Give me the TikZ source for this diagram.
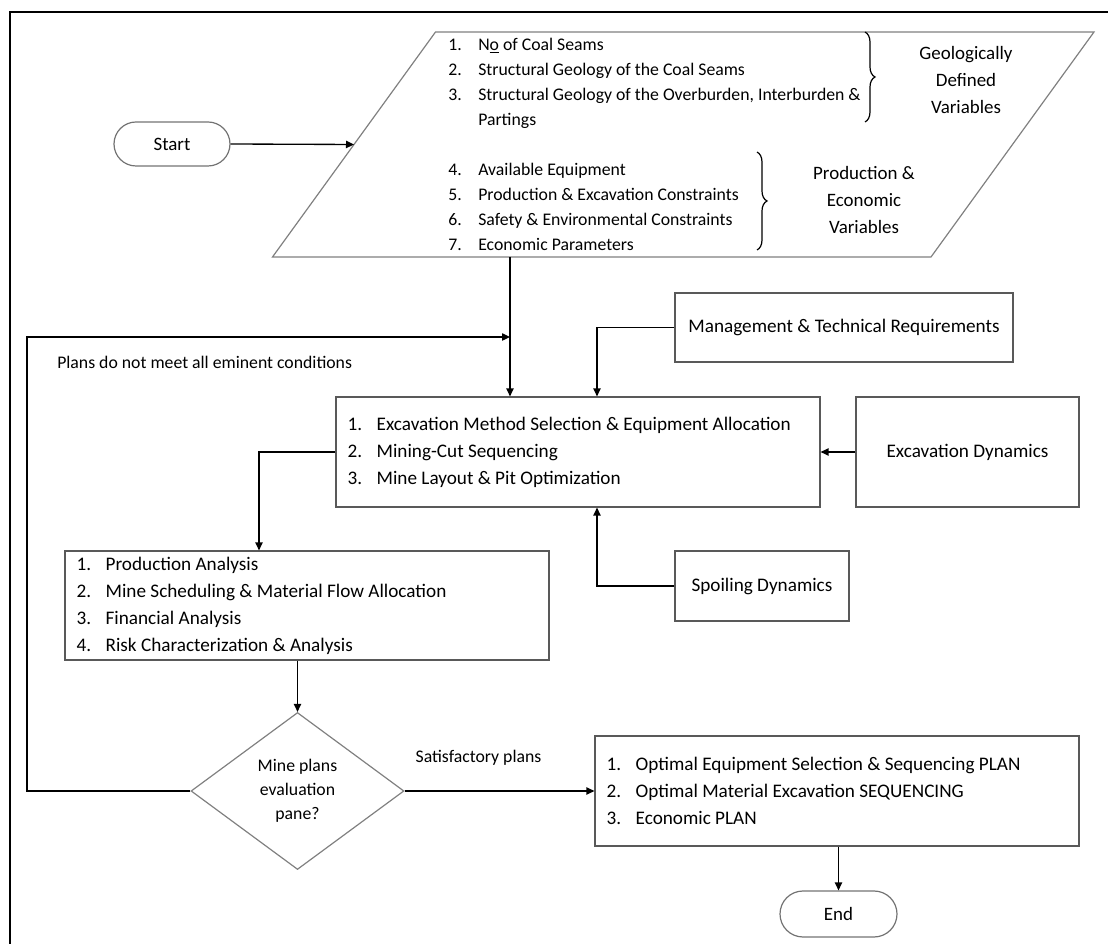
\documentclass[tikz,border=0pt]{standalone}
\usepackage{fontspec}
\setmainfont{Carlito}
\usetikzlibrary{arrows.meta,shapes.geometric,shapes.misc,decorations.pathreplacing,calc}
\newcommand{\itm}[2]{\makebox[22.5pt][l]{#1}#2}
\newcommand{\itb}[2]{\makebox[21.75pt][l]{#1}#2}
\begin{document}
\begin{tikzpicture}[x=0.75pt,y=-0.75pt,
  every node/.style={font=\fontsize{13.3pt}{18.75pt}\selectfont, inner sep=0pt},
  bigf/.style={font=\fontsize{14.4pt}{20.25pt}\selectfont},
  arr/.style={line width=1pt, -{Triangle[length=6pt,width=5.5pt]}},
  boxs/.style 2 args={draw=black!65, line width=0.9pt, rectangle, minimum width=#1*0.75pt, minimum height=#2*0.75pt, bigf},
  termx/.style 2 args={draw=black!55, line width=0.9pt, rounded rectangle, minimum width=#1*0.75pt, minimum height=#2*0.75pt, font=\fontsize{14.2pt}{18pt}\selectfont},
  listtext/.style={align=left, anchor=west},
  lbl/.style={align=center, font=\fontsize{14.2pt}{20.25pt}\selectfont},
  bracex/.style={decorate, decoration={brace, amplitude=7.5pt}, line width=0.9pt},
  frame/.style={line width=1.2pt},
  para/.style={draw=black!50, line width=0.9pt}
]
\useasboundingbox (0,0) rectangle (1108,944);
\draw[frame] (10,944) -- (10,12) -- (1108,12);

% terminals
\node[termx={116}{44}] (st) at (172,144) {Start};
\node[termx={117}{46}] (en) at (838.5,914) {End};

% input parallelogram
\coordinate (pbl) at (272.5,257);
\coordinate (ptl) at (435.5,32);
\coordinate (ptr) at (1094,32);
\coordinate (pbr) at (931,257);
\draw[para] (pbl) -- (ptl) -- (ptr) -- (pbr) -- cycle;
\coordinate (pls) at ($(pbl)!0.5!(ptl)$);
\node[listtext] (g1) at (448,83) {\itm{1.}{N\underline{o} of Coal Seams}\\
  \itm{2.}{Structural Geology of the Coal Seams}\\
  \itm{3.}{Structural Geology of the Overburden, Interburden \&}\\
  \itm{}{Partings}};
\node[listtext] (g2) at (448,207) {\itm{4.}{Available Equipment}\\
  \itm{5.}{Production \& Excavation Constraints}\\
  \itm{6.}{Safety \& Environmental Constraints}\\
  \itm{7.}{Economic Parameters}};
\coordinate (b1t) at (865,32);
\coordinate (b1b) at (865,122);
\coordinate (b2t) at (757,152);
\coordinate (b2b) at (757,250);
\draw[bracex] (b1t) -- (b1b);
\draw[bracex] (b2t) -- (b2b);
\node[lbl] (geo) at (966,80) {Geologically\\Defined\\Variables};
\node[lbl] (pev) at (864,200) {Production \&\\Economic\\Variables};

% boxes
\node[boxs={484}{110}] (c) at (578,452) {};
\node[listtext, bigf] (ct) at ([xshift=9pt]c.west) {\itb{1.}{Excavation Method Selection \& Equipment Allocation}\\
  \itb{2.}{Mining-Cut Sequencing}\\
  \itb{3.}{Mine Layout \& Pit Optimization}};
\node[boxs={338}{69}] (mg) at (844,327.5) {Management \& Technical Requirements};
\node[boxs={223}{110}] (ex) at (967.5,452) {Excavation Dynamics};
\node[boxs={174}{70}] (sp) at (762,586) {Spoiling Dynamics};
\node[boxs={484}{109}] (an) at (307,605.5) {};
\node[listtext, bigf] (at) at ([xshift=9pt]an.west) {\itb{1.}{Production Analysis}\\
  \itb{2.}{Mine Scheduling \& Material Flow Allocation}\\
  \itb{3.}{Financial Analysis}\\
  \itb{4.}{Risk Characterization \& Analysis}};
\node[diamond, draw=black!50, line width=0.9pt, minimum width=213*0.75pt, minimum height=157*0.75pt,
      align=center, font=\fontsize{13.3pt}{18.2pt}\selectfont] (d) at (297.5,791) {Mine plans\\evaluation\\pane?};
\node[boxs={484}{110}] (out) at (837,791) {};
\node[listtext, bigf] (ot) at ([xshift=9pt]out.west) {\itb{1.}{Optimal Equipment Selection \& Sequencing PLAN}\\
  \itb{2.}{Optimal Material Excavation SEQUENCING}\\
  \itb{3.}{Economic PLAN}};

% labels
\node[anchor=west] (lno) at (57,362) {Plans do not meet all eminent conditions};
\node (lsat) at (478.5,758) {Satisfactory plans};

% helper coordinates
\coordinate (j) at (510,337);
\coordinate (jt) at (510,257);
\coordinate (fb) at (27,337);
\coordinate (xm) at (597,0);
\coordinate (xa) at (259,0);

% connectors
\draw[arr] (st.east) -- (pls);
\draw[arr] (jt) -- (j |- c.north);
\draw[arr] (d.west) -| (fb) -- (j);
\draw[arr] (mg.west) -| (xm |- c.north);
\draw[arr] (ex.west) -- (c.east);
\draw[arr] (sp.west) -| (xm |- c.south);
\draw[arr] (c.west) -| (xa |- an.north);
\draw[arr] (d.north |- an.south) -- (d.north);
\draw[arr] (d.east) -- (out.west);
\draw[arr] (en.north |- out.south) -- (en.north);
\end{tikzpicture}
\end{document}
